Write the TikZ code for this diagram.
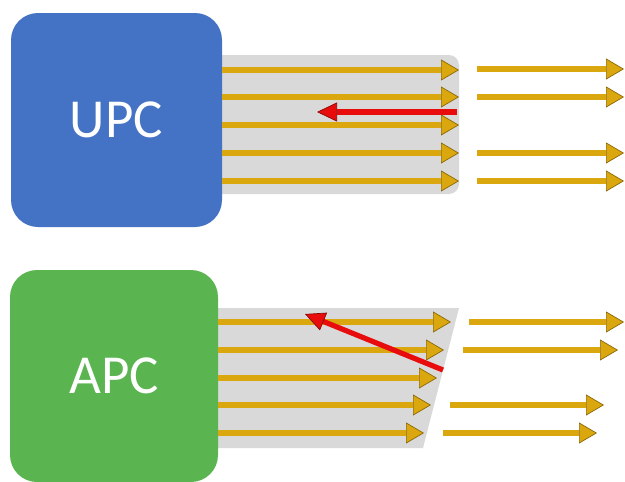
\documentclass[tikz,border=0pt]{standalone}
\usepackage{fontspec}
\setmainfont{Carlito}
\usetikzlibrary{arrows.meta}
\definecolor{upcblue}{RGB}{68,114,196}
\definecolor{apcgreen}{RGB}{90,180,80}
\definecolor{bandgray}{RGB}{217,217,217}
\definecolor{beamgold}{RGB}{218,168,14}
\definecolor{beamedge}{RGB}{140,104,8}
\definecolor{backred}{RGB}{232,12,12}
\begin{document}
\begin{tikzpicture}[x=1pt,y=-1pt,line join=round]
	\tikzset{ferrule/.style={rounded corners=27pt,minimum width=211pt,minimum height=214pt,inner sep=0pt,text=white,font=\fontsize{55}{60}\selectfont},
		beam/.style={beamgold,line width=5.6pt,-{Triangle[length=18pt,width=21pt,fill=beamgold,color=beamedge,line width=0.7pt]}},
		backbeam/.style={backred,line width=5.2pt,-{Triangle[length=20pt,width=19pt,fill=backred,color=backred!60!black,line width=0.7pt]}}}
	\useasboundingbox (0,0) rectangle (625,482);
	\fill[bandgray,rounded corners=10pt] (200,55) rectangle (459,194);
	\fill[bandgray] (200,308)--(459,308)--(423,448)--(200,448)--cycle;
	\node[ferrule,fill=upcblue] (upc) at (116.5,120) {UPC};
	\node[ferrule,fill=apcgreen,minimum width=208pt,minimum height=212pt] (apc) at (114,376) {APC};
	\foreach \y in {70,97,125,153,181}
	\draw[beam] (upc.east|-0,\y)--(459,\y);
	\foreach \y in {69,97,153,181}
	\draw[beam] (477,\y)--(624,\y);
	\foreach \y/\tip in {322/451,350/444,378/437,405/431,433/424}
	\draw[beam] (apc.east|-0,\y)--(\tip,\y);
	\foreach \y/\st/\tip in {322/469/624,350/463/618,405/450/604,433/443/597}
	\draw[beam] (\st,\y)--(\tip,\y);
	\draw[backbeam] (457,112)--(317,112);
	\draw[backbeam] (443,370)--(305,314);
\end{tikzpicture}
\end{document}
